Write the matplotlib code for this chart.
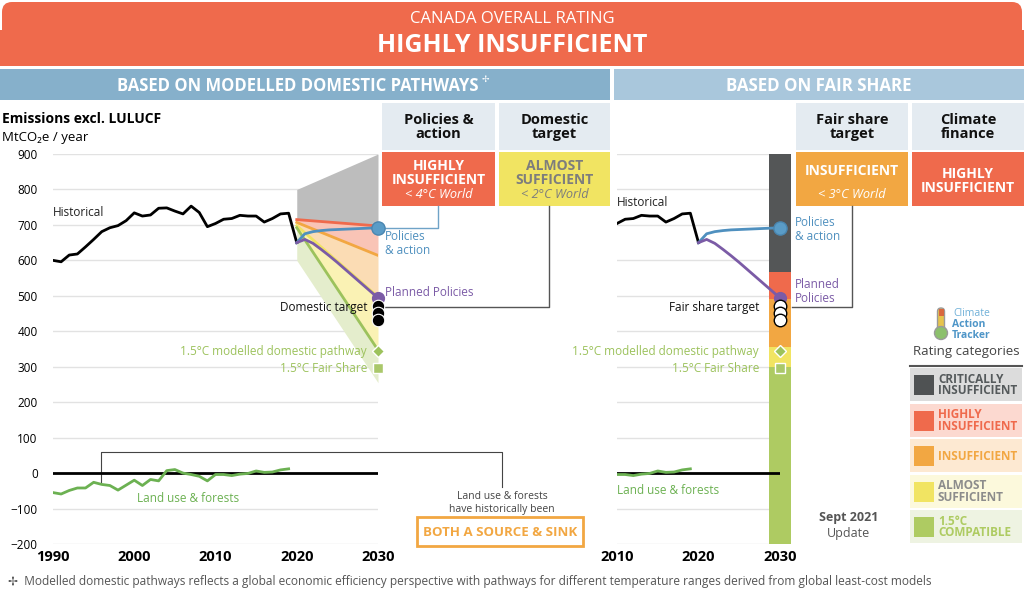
import matplotlib.pyplot as plt
from matplotlib.patches import Rectangle, FancyBboxPatch, Circle

plt.rcParams["font.family"] = ["Open Sans", "DejaVu Sans"]

# emissions excl. LULUCF, MtCO2e / year
hist_years = list(range(1990, 2021))
hist_values = [600, 596, 615, 618, 638, 659, 681, 692, 698, 712, 734, 725, 728, 747, 748,
               739, 731, 753, 735, 695, 704, 716, 718, 727, 725, 725, 708, 718, 731, 733, 650]

# land use & forests
lulucf_years = list(range(1990, 2020))
lulucf_values = [-55, -59, -49, -42, -42, -26, -32, -35, -48, -34, -20, -35, -18, -22, 7,
                 10, 0, -4, -9, -22, -4, -4, -7, -3, -1, 6, 2, 3, 9, 12]

proj_years = list(range(2020, 2031))
policies_action = [650, 675, 681, 684, 686, 687, 688, 689, 690, 691, 691]
planned_policies = [650, 659, 648, 631, 613, 594, 574, 554, 534, 514, 494]

# modelled domestic pathway rating ranges (2020 -> 2030)
fan_years = [2020, 2030]
critical_top = [800, 900]
highly_line = [715, 697]
insufficient_line = [707, 614]
almost_line = [698, 497]
compatible_line = [692, 347]
compatible_bottom = [600, 255]

# fair share rating ranges in 2030
fair_bounds = [900, 566, 490, 355, 299, -200]

domestic_target = [471, 451, 432]
pathway_15 = 345
fair_share_15 = 297

RED = "#ef6a4c"
ORANGE = "#f2a742"
YELLOW = "#f1e462"
GREEN = "#aecb62"
DARK = "#4f5253"
BLUE = "#4f90bf"
PURPLE = "#7b5ba6"
LGREEN = "#9cc25c"
LANDGREEN = "#6cb152"

fig = plt.figure(figsize=(10.24, 6.0), dpi=100)
ov = fig.add_axes([0, 0, 1, 1], zorder=0)
top = fig.add_axes([0, 0, 1, 1], zorder=3)
for o in (ov, top):
    o.set_xlim(0, 1024)
    o.set_ylim(600, 0)
    o.axis("off")
top.patch.set_alpha(0)


def box(x0, y0, x1, y1, color, **kw):
    ov.add_patch(Rectangle((x0, y0), x1 - x0, y1 - y0, facecolor=color, edgecolor="none", **kw))


# header
ov.add_patch(FancyBboxPatch((2, 2), 1020, 60, boxstyle="round,pad=0,rounding_size=10",
                            facecolor=RED, edgecolor="none"))
box(0, 30, 1024, 66, RED)
ov.text(512, 19, "CANADA OVERALL RATING", color="white", fontsize=12, ha="center", va="center")
ov.text(512, 46, "HIGHLY INSUFFICIENT", color="white", fontsize=18, fontweight="bold",
        ha="center", va="center")
box(0, 69, 610, 100, "#86b0cb")
box(614, 69, 1024, 100, "#a9c7dc")
ov.text(298, 86, "BASED ON MODELLED DOMESTIC PATHWAYS", color="white", fontsize=12,
        fontweight="bold", ha="center", va="center")
ov.text(485, 79, "\u2722", color="white", fontsize=6.5, ha="center", va="center",
        family=["DejaVu Sans"])
ov.text(819, 86, "BASED ON FAIR SHARE", color="white", fontsize=12.2, fontweight="bold",
        ha="center", va="center")

# rating column headers
heads = [(382, 495, "Policies &\naction"), (499, 610, "Domestic\ntarget"),
         (796, 908, "Fair share\ntarget"), (912, 1024, "Climate\nfinance")]
for x0, x1, label in heads:
    box(x0, 103, x1, 150, "#e4ebf1")
    ov.text((x0 + x1) / 2, 127, label, fontsize=10.5, fontweight="bold", ha="center",
            va="center", linespacing=1.05, color="#111111")

box(382, 152, 495, 206, RED)
ov.text(438.5, 173, "HIGHLY\nINSUFFICIENT", color="white", fontsize=10, fontweight="bold",
        ha="center", va="center", linespacing=0.95)
ov.text(438.5, 195, "< 4\u00b0C World", color="white", fontsize=9.2, style="italic",
        ha="center", va="center")
box(499, 152, 610, 206, YELLOW)
ov.text(554.5, 173, "ALMOST\nSUFFICIENT", color="#7d7d7d", fontsize=10, fontweight="bold",
        ha="center", va="center", linespacing=0.95)
ov.text(554.5, 195, "< 2\u00b0C World", color="#7d7d7d", fontsize=9.2, style="italic",
        ha="center", va="center")
box(796, 152, 908, 206, ORANGE)
ov.text(852, 171, "INSUFFICIENT", color="white", fontsize=10, fontweight="bold",
        ha="center", va="center")
ov.text(852, 195, "< 3\u00b0C World", color="white", fontsize=9.2, style="italic",
        ha="center", va="center")
box(912, 152, 1024, 206, RED)
ov.text(968, 181, "HIGHLY\nINSUFFICIENT", color="white", fontsize=10, fontweight="bold",
        ha="center", va="center", linespacing=0.95)

# connectors
ov.plot([438, 438, 384], [206, 228, 228], color="#6fa3c7", lw=1)
ov.plot([549, 549, 384], [206, 307, 307], color="#555555", lw=1)
ov.plot([852, 852, 792], [206, 307, 307], color="#555555", lw=1)
ov.plot([101, 101, 502, 502], [482, 452, 452, 487], color="#444444", lw=0.8)

ov.text(502, 503, "Land use & forests\nhave historically been", fontsize=7.5, color="#444444",
        ha="center", va="center", linespacing=1.2)
ov.add_patch(Rectangle((417, 517), 166, 29, facecolor="white", edgecolor=ORANGE, lw=2))
ov.text(500, 532, "BOTH A SOURCE & SINK", color=ORANGE, fontsize=9.5, fontweight="bold",
        ha="center", va="center")

# left chart labels
ov.text(2, 119, "Emissions excl. LULUCF", fontsize=10, fontweight="bold", va="center")
ov.text(2, 137, "MtCO\u2082e / year", fontsize=9.5, va="center")
top.text(53, 212, "Historical", fontsize=8.5, color="#222222", va="center")
top.text(385, 244, "Policies\n& action", fontsize=8.5, color=BLUE, va="center", linespacing=1.1)
top.text(385, 293, "Planned Policies", fontsize=8.5, color=PURPLE, va="center")
top.text(368, 308, "Domestic target", fontsize=8.5, color="#111111", va="center", ha="right")
top.text(367, 352, "1.5\u00b0C modelled domestic pathway", fontsize=8.5, color=LGREEN,
         va="center", ha="right")
top.text(367, 368, "1.5\u00b0C Fair Share", fontsize=8.5, color=LGREEN, va="center", ha="right")
top.text(137, 498, "Land use & forests", fontsize=8.5, color=LANDGREEN, va="center")

# right chart labels
top.text(617, 203, "Historical", fontsize=8.5, color="#222222", va="center")
top.text(795, 230, "Policies\n& action", fontsize=8.5, color=BLUE, va="center", linespacing=1.1)
top.text(795, 291, "Planned\nPolicies", fontsize=8.5, color=PURPLE, va="center", linespacing=1.1)
top.text(759, 308, "Fair share target", fontsize=8.5, color="#111111", va="center", ha="right")
top.text(759, 352, "1.5\u00b0C modelled domestic pathway", fontsize=8.5, color=LGREEN,
         va="center", ha="right")
top.text(759, 368, "1.5\u00b0C Fair Share", fontsize=8.5, color=LGREEN, va="center", ha="right")
top.text(617, 490, "Land use & forests", fontsize=8.5, color=LANDGREEN, va="center")

ov.text(849, 518, "Sept 2021", fontsize=9, fontweight="bold", color="#555555",
        ha="center", va="center")
ov.text(849, 533, "Update", fontsize=9, color="#555555", ha="center", va="center")

# logo
ov.add_patch(FancyBboxPatch((937.5, 308), 7, 24, boxstyle="round,pad=0,rounding_size=3.5",
                            facecolor="#e7c44c", edgecolor="#9a9a9a", lw=1))
ov.add_patch(Rectangle((938.5, 309), 5, 7, facecolor="#d9683f", edgecolor="none"))
ov.add_patch(Circle((941, 333), 6.5, facecolor="#8cc06c", edgecolor="#9a9a9a", lw=1))
ov.text(953, 314, "Climate", fontsize=7.5, color="#6fb0d8", va="center")
ov.text(952, 324.5, "Action", fontsize=7.5, fontweight="bold", color="#4f96c8", va="center")
ov.text(952, 335, "Tracker", fontsize=7.5, fontweight="bold", color="#4f96c8", va="center")
ov.text(966, 352, "Rating categories", fontsize=9.5, color="#444444", ha="center", va="center")
ov.plot([910, 1022], [366, 366], color="#555555", lw=1.5)

legend_rows = [
    ("CRITICALLY\nINSUFFICIENT", DARK, "#dcdcdc", "#555a5c"),
    ("HIGHLY\nINSUFFICIENT", RED, "#fcd9d0", RED),
    ("INSUFFICIENT", ORANGE, "#fde9d2", ORANGE),
    ("ALMOST\nSUFFICIENT", YELLOW, "#fcf9dc", "#8c8c8c"),
    ("1.5\u00b0C\nCOMPATIBLE", GREEN, "#eef3e2", GREEN),
]
for i, (label, sq, bg, tc) in enumerate(legend_rows):
    y0 = 368 + i * 35.5
    box(910, y0, 1022, y0 + 33, bg)
    box(914, y0 + 7, 934, y0 + 27, sq)
    ov.text(938, y0 + 17, label, fontsize=8.5, fontweight="bold", color=tc, va="center",
            linespacing=0.82)

ov.text(8, 582, "\u2722  Modelled domestic pathways reflects a global economic efficiency perspective "
        "with pathways for different temperature ranges derived from global least-cost models",
        fontsize=8.6, color="#555555", va="center")

# charts
ax = fig.add_axes([53 / 1024, 56 / 600, 325 / 1024, 390 / 600], zorder=1)
axr = fig.add_axes([617 / 1024, 56 / 600, 163 / 1024, 390 / 600], zorder=1)
for a, x0, ticks in [(ax, 1990, [1990, 2000, 2010, 2020, 2030]), (axr, 2010, [2010, 2020, 2030])]:
    a.set_facecolor("none")
    a.set_xlim(x0, 2030)
    a.set_ylim(-200, 900)
    a.set_yticks(range(-200, 1000, 100))
    a.set_xticks(ticks)
    a.grid(axis="y", color="#e2e2e2", lw=1)
    a.set_axisbelow(True)
    a.tick_params(length=0, pad=4)
    for s in a.spines.values():
        s.set_visible(False)
    for t in a.get_xticklabels():
        t.set_fontweight("bold")
        t.set_fontsize(10.5)
    a.axhline(0, color="black", lw=2, zorder=2)

ax.tick_params(axis="y", pad=11, labelsize=8.5)
axr.set_yticklabels([])

# modelled domestic pathway fan
ax.fill_between(fan_years, highly_line, critical_top, color="#bdbdbd", lw=0)
ax.fill_between(fan_years, insufficient_line, highly_line, color="#f9c4b6", lw=0)
ax.fill_between(fan_years, almost_line, insufficient_line, color="#fbdcb4", lw=0)
ax.fill_between(fan_years, compatible_line, almost_line, color="#faf2b4", lw=0)
ax.fill_between(fan_years, compatible_bottom, compatible_line, color="#e4edcc", lw=0)
ax.plot(fan_years, highly_line, color=RED, lw=2)
ax.plot(fan_years, insufficient_line, color=ORANGE, lw=2)
ax.plot(fan_years, almost_line, color=YELLOW, lw=2)
ax.plot(fan_years, compatible_line, color=LGREEN, lw=2)

# fair share bar
fair_colors = ["#545657", RED, ORANGE, YELLOW, GREEN]
for top_v, bottom_v, c in zip(fair_bounds[:-1], fair_bounds[1:], fair_colors):
    axr.bar(2030, top_v - bottom_v, bottom=bottom_v, width=2.6, color=c, clip_on=False,
            zorder=1)

for a, x0 in [(ax, 0), (axr, 20)]:
    a.plot(hist_years[x0:], hist_values[x0:], color="black", lw=2, zorder=3)
    a.plot(lulucf_years[x0:], lulucf_values[x0:], color=LANDGREEN, lw=2, zorder=3)
    a.plot(proj_years, policies_action, color=BLUE, lw=2, zorder=3)
    a.plot(proj_years, planned_policies, color=PURPLE, lw=2, zorder=3)
    a.plot(2030, policies_action[-1], "o", ms=9.5, mfc="#5a9cc7", mec="#4a86b0", clip_on=False,
           zorder=5)
    a.plot(2030, planned_policies[-1], "o", ms=8.5, mfc=PURPLE, mec=PURPLE, clip_on=False,
           zorder=5)
    a.plot(2030, pathway_15, "D", ms=6.5, mfc=LGREEN, mec="white", clip_on=False, zorder=5)
    a.plot(2030, fair_share_15, "s", ms=6.5, mfc="#aac86a", mec="white", clip_on=False,
           zorder=5)

for v in domestic_target:
    ax.plot(2030, v, "o", ms=9, mfc="black", mec="white", mew=0.8, clip_on=False, zorder=6)
    axr.plot(2030, v, "o", ms=9, mfc="white", mec="black", mew=1, clip_on=False, zorder=6)

fig.savefig("out.png", dpi=100)
